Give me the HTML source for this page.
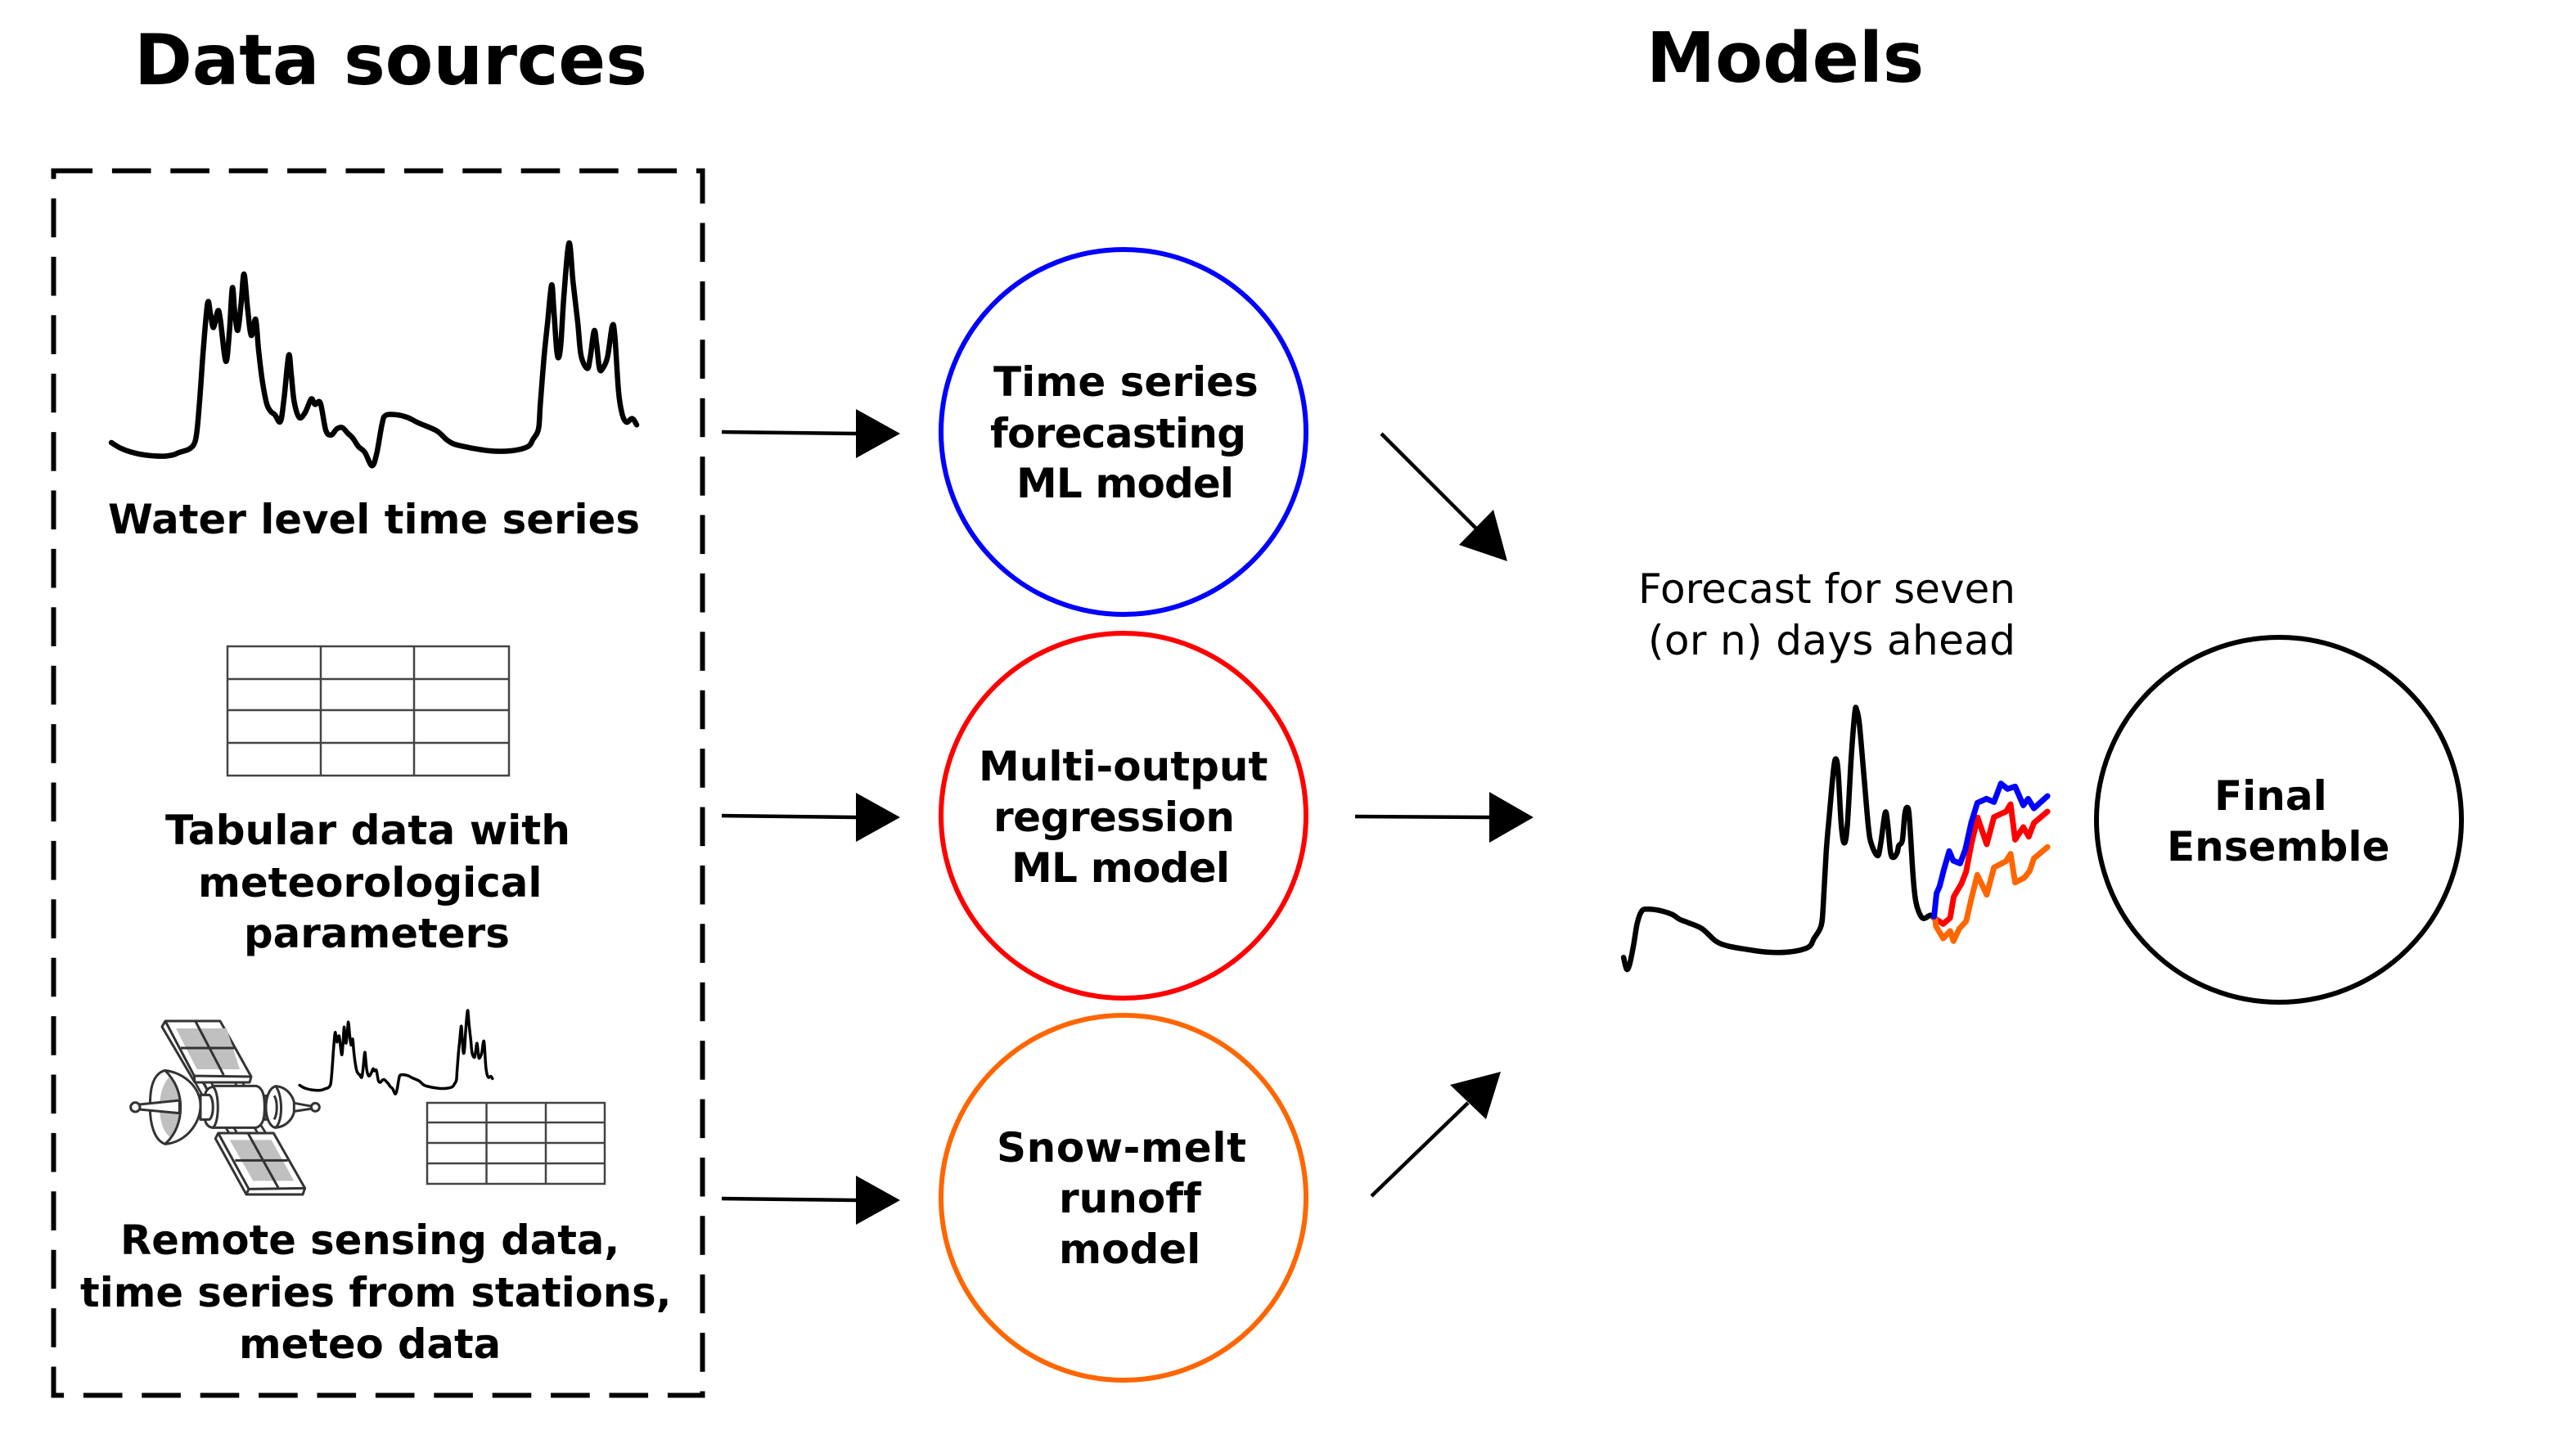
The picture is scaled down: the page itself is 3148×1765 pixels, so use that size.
<!DOCTYPE html>
<html><head><meta charset="utf-8"><style>
html,body{margin:0;padding:0;background:#fff}
svg{display:block}
text{font-family:"DejaVu Sans",sans-serif;font-weight:bold;font-size:50px;fill:#000;font-variant-ligatures:none}
.n{vector-effect:non-scaling-stroke;fill:none;stroke-linejoin:round;stroke-linecap:round}
.s *{vector-effect:non-scaling-stroke;stroke:#333;stroke-width:3;stroke-linejoin:round;fill:#fff}
.s .g{fill:#c0c0c0;stroke:none}
.s .o{fill:none}
.s .st{fill:none;stroke-width:11;stroke-linecap:round}
.s .st2{fill:none;stroke:#fff;stroke-width:5.5;stroke-linecap:round}
.t{fill:none;stroke:#444;stroke-width:2.5}
</style></head><body>
<svg width="3148" height="1765" viewBox="0 0 3148 1765" xmlns="http://www.w3.org/2000/svg">
<rect width="3148" height="1765" fill="#fff"/>
<text x="164" y="103" style="font-size:85.5px" textLength="627" lengthAdjust="spacing">Data sources</text>
<text x="2012" y="100" style="font-size:84.5px">Models</text>
<rect x="65.5" y="208.7" width="793" height="1496.8" fill="none" stroke="#000" stroke-width="6" stroke-dasharray="47.6 23.8"/>
<polyline class="n smooth" stroke="#000" stroke-width="6.5" transform="matrix(.4443 0 0 .3333 102.7 261)" points="75,840 100,860 130,875 165,885 215,890 245,885 260,877 290,863 305,838 312,780 320,650 328,500 340,328 348,370 356,418 368,357 375,390 390,542 400,430 408,272 415,370 423,428 432,330 440,222 450,350 460,447 472,388 480,500 490,610 502,695 513,725 525,738 540,763 550,680 563,520 570,590 578,690 592,748 608,730 625,680 635,700 650,695 665,795 680,812 695,790 710,785 725,805 740,825 755,855 772,875 792,925 805,880 820,770 830,740 860,738 890,748 920,768 970,797 1000,832 1030,850 1115,870 1175,870 1220,855 1235,828 1250,790 1255,700 1265,530 1275,400 1286,262 1292,350 1300,500 1306,527 1312,470 1320,300 1334,108 1345,250 1358,400 1367,520 1384,568 1392,530 1403,430 1410,480 1418,570 1428,565 1440,525 1453,412 1460,450 1470,650 1480,735 1492,765 1508,752 1520,775"/>
<text x="132" y="652" style="font-size:49.8px">Water level time series</text>
<g class="t">
<rect x="278" y="790" width="344" height="158"/>
<path d="M392 790V948M506 790V948M278 830H622M278 868H622M278 908H622"/>
</g>
<text x="202" y="1032" style="font-size:50.2px">Tabular data with</text>
<text x="242" y="1096" style="font-size:49.8px">meteorological</text>
<text x="298" y="1158" style="font-size:49.8px">parameters</text>
<polyline class="n smooth" stroke="#000" stroke-width="3.5" transform="matrix(.163 0 0 .125 354 1221.5)" points="75,840 100,860 130,875 165,885 215,890 245,885 260,877 290,863 305,838 312,780 320,650 328,500 340,328 348,370 356,418 368,357 375,390 390,542 400,430 408,272 415,370 423,428 432,330 440,222 450,350 460,447 472,388 480,500 490,610 502,695 513,725 525,738 540,763 550,680 563,520 570,590 578,690 592,748 608,730 625,680 635,700 650,695 665,795 680,812 695,790 710,785 725,805 740,825 755,855 772,875 792,925 805,880 820,770 830,740 860,738 890,748 920,768 970,797 1000,832 1030,850 1115,870 1175,870 1220,855 1235,828 1250,790 1255,700 1265,530 1275,400 1286,262 1292,350 1300,500 1306,527 1312,470 1320,300 1334,108 1345,250 1358,400 1367,520 1384,568 1392,530 1403,430 1410,480 1418,570 1428,565 1440,525 1453,412 1460,450 1470,650 1480,735 1492,765 1508,752 1520,775"/>
<g class="s" transform="matrix(.33333 0 0 .33333 150 1290)">
<path class="st" d="M305,88L322,122M280,100L300,135M418,85L432,112M375,238L405,285M480,238L510,285"/>
<path class="st2" d="M305,88L322,122M280,100L300,135M418,85L432,112M375,238L405,285M480,238L510,285"/>
<path d="M156,-126L357,-126L471,78L465,99L264,99L144,-105Z"/>
<path class="o" d="M156,-126L262,75L471,78M262,75L264,99"/>
<polygon class="g" points="195,-99 381,-99 429,51 272,51"/>
<path class="o" d="M266,-126L370,72M213,-27L411,-27"/>
<path d="M350,285L553,285L668,487L660,510L453,510L340,305Z"/>
<path class="o" d="M350,285L462,490L668,487M462,490L453,510"/>
<polygon class="g" points="392,310 545,310 628,460 478,460"/>
<path class="o" d="M460,287L570,485M412,385L605,385"/>
<path d="M520,148L565,148L565,235L520,235Z"/>
<path d="M560,113C600,115 630,150 630,190C630,230 600,262 560,265C540,262 525,230 525,190C525,160 535,120 560,113Z"/>
<path class="o" d="M560,113C585,140 590,240 560,265M555,148C568,165 568,215 555,235"/>
<path d="M628,175L695,187L695,195L628,205Z"/>
<circle cx="706" cy="190" r="15"/>
<path d="M285,145L325,145L325,235L285,235Z"/>
<path d="M330,112L490,112C515,120 520,150 520,190C520,230 515,255 490,265L330,265Z"/>
<path d="M330,115C300,120 298,150 298,190C298,230 300,262 330,265C355,250 355,130 330,115Z"/>
<path d="M285,145L318,145C335,160 335,220 318,235L285,235Z"/>
<path d="M155,55C100,70 100,150 100,190C100,250 115,310 155,325C230,320 285,250 285,185C285,120 230,65 155,55Z"/>
<path class="g" d="M170,80C150,100 135,140 135,190C135,240 150,285 175,300C200,260 208,225 208,190C208,150 195,110 170,80Z"/>
<path class="o" d="M155,55C200,100 212,150 212,190C212,240 195,290 155,325"/>
<path d="M60,180L208,165L208,212L60,198Z"/>
<circle cx="46" cy="190" r="17"/>
</g>
<g class="t">
<rect x="522" y="1348" width="217" height="99"/>
<path d="M594.500 1348V1447M667 1348V1447M522 1372H739M522 1397H739M522 1422H739"/>
</g>
<text x="147" y="1533" style="font-size:49.6px">Remote sensing data,</text>
<text x="98" y="1597" style="font-size:49.6px">time series from stations,</text>
<text x="292" y="1660" style="font-size:49.6px">meteo data</text>
<g fill="none" stroke-width="6">
<circle cx="1373" cy="528" r="223" stroke="#0000ff"/>
<circle cx="1373" cy="997" r="223" stroke="#ff0000"/>
<circle cx="1373" cy="1464" r="223" stroke="#ff6600"/>
<circle cx="2785" cy="1002" r="223" stroke="#000"/>
</g>
<text x="1214" y="484">Time series</text>
<text x="1210" y="547" textLength="313" lengthAdjust="spacing">forecasting</text>
<text x="1242" y="608" textLength="266" lengthAdjust="spacing">ML model</text>
<text x="1196" y="954">Multi-output</text>
<text x="1214" y="1016" textLength="295" lengthAdjust="spacing">regression</text>
<text x="1236" y="1078" textLength="267" lengthAdjust="spacing">ML model</text>
<text x="1218" y="1420" textLength="305" lengthAdjust="spacing">Snow-melt</text>
<text x="1294" y="1482">runoff</text>
<text x="1294" y="1544">model</text>
<text x="2706" y="990">Final</text>
<text x="2648" y="1052">Ensemble</text>
<text x="2002" y="737" style="font-weight:normal">Forecast for seven</text>
<text x="2014" y="800" style="font-weight:normal" textLength="449" lengthAdjust="spacing">(or n) days ahead</text>
<g stroke="#000" stroke-width="4.5" fill="#000">
<path d="M882 528L1046 530M882 997L1046 999M882 1465L1046 1467M1688 530L1805 647M1656 998L1820 999M1676 1462L1794 1348"/>
<polygon stroke="none" points="1046,500 1100,530 1046,560"/>
<polygon stroke="none" points="1046,969 1100,999 1046,1029"/>
<polygon stroke="none" points="1046,1437 1100,1467 1046,1497"/>
<polygon stroke="none" points="1825,623 1842,686 1783,666"/>
<polygon stroke="none" points="1820,968 1874,999 1820,1030"/>
<polygon stroke="none" points="1772,1326 1816,1368 1834,1310"/>
</g>
<g transform="matrix(.3695 0 0 .3333 1949 842)">
<polyline class="n smooth" stroke="#000" stroke-width="6.5" points="95,985 105,1028 115,1010 128,940 140,860 155,815 175,808 215,813 255,827 280,845 310,858 355,880 400,925 440,943 500,955 565,965 640,965 705,948 725,915 748,870 755,800 765,600 775,470 790,290 798,258 805,310 815,500 825,565 835,500 848,250 860,85 866,78 875,130 890,320 905,510 915,570 935,612 945,570 960,455 968,490 978,600 988,618 1000,600 1005,575 1017,555 1025,460 1033,435 1040,470 1052,680 1060,770 1072,820 1087,842 1110,830 1122,842"/>
<polyline class="n" stroke="#ff0000" stroke-width="7" points="1122,840 1152,862 1175,840 1187,762 1212,715 1228,670 1245,570 1266,472 1296,570 1320,470 1360,450 1375,423 1390,553 1417,507 1435,542 1452,492 1497,450"/>
<polyline class="n" stroke="#ff6600" stroke-width="7" points="1125,840 1128,870 1152,915 1175,888 1186,925 1205,880 1228,852 1245,770 1265,682 1296,755 1320,655 1360,632 1375,605 1390,710 1420,693 1438,668 1452,622 1497,580"/>
<polyline class="n" stroke="#0000ff" stroke-width="7" points="1122,835 1130,750 1140,725 1155,660 1172,595 1185,630 1208,640 1225,590 1245,490 1265,418 1295,403 1320,415 1343,347 1365,367 1390,358 1417,427 1433,403 1452,438 1497,393"/>
</g>
</svg>
<script>
document.querySelectorAll('polyline.smooth').forEach(function(pl){
  var v=pl.getAttribute('points').trim().split(/\s+/).map(function(s){return s.split(',').map(Number)});
  var d='M'+v[0][0]+','+v[0][1];
  for(var i=0;i<v.length-1;i++){
    var a=v[Math.max(i-1,0)],b=v[i],c=v[i+1],e=v[Math.min(i+2,v.length-1)];
    d+='C'+(b[0]+(c[0]-a[0])/6).toFixed(1)+','+(b[1]+(c[1]-a[1])/6).toFixed(1)+' '+(c[0]-(e[0]-b[0])/6).toFixed(1)+','+(c[1]-(e[1]-b[1])/6).toFixed(1)+' '+c[0]+','+c[1];
  }
  var p=document.createElementNS('http://www.w3.org/2000/svg','path');
  p.setAttribute('d',d);
  ['class','stroke','stroke-width','transform'].forEach(function(k){if(pl.getAttribute(k))p.setAttribute(k,pl.getAttribute(k))});
  pl.parentNode.replaceChild(p,pl);
});
</script>
</body></html>
